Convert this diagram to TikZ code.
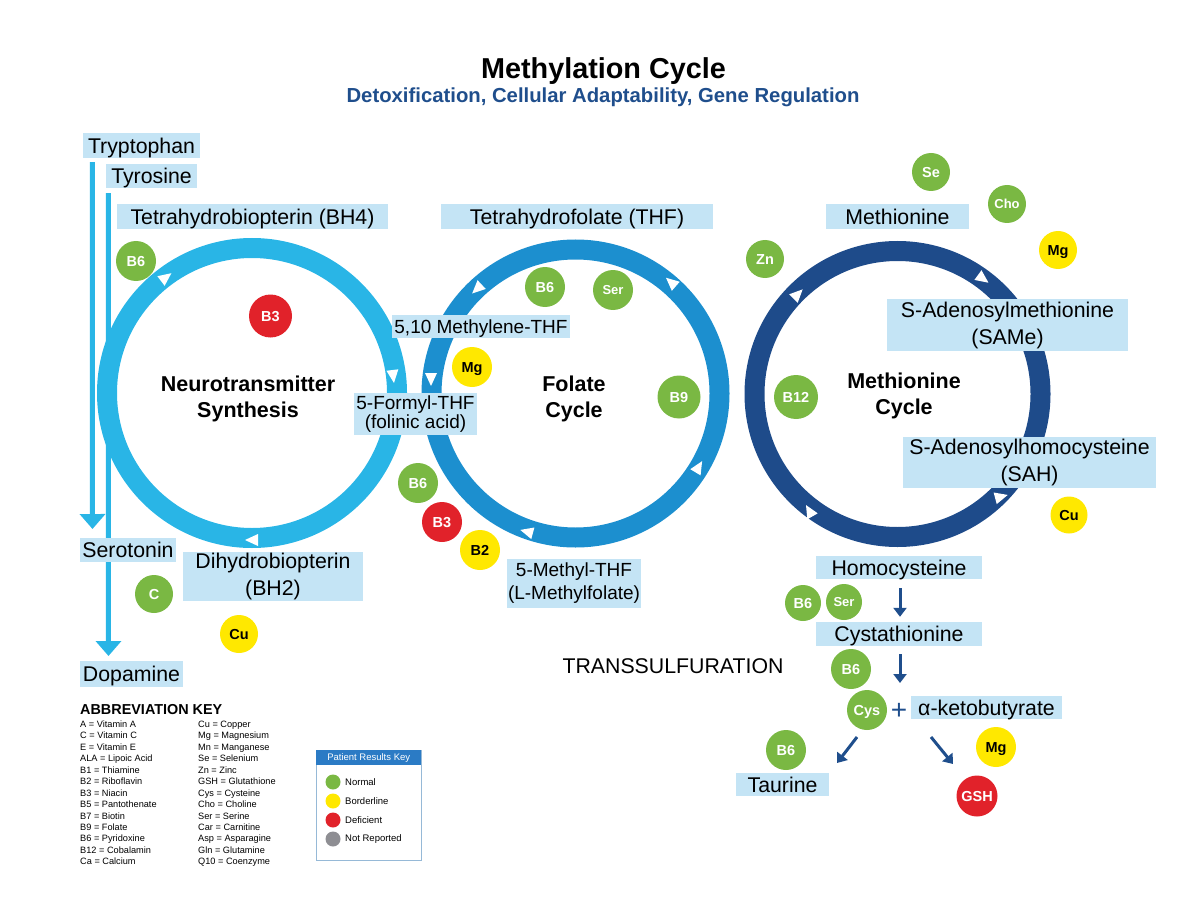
\documentclass[tikz,border=0pt]{standalone}
\usepackage{fontspec}
\setmainfont{Liberation Sans}
\usetikzlibrary{arrows.meta}
\definecolor{lblue}{RGB}{196,228,245}
\definecolor{ringA}{RGB}{41,181,230}
\definecolor{ringB}{RGB}{28,143,207}
\definecolor{ringC}{RGB}{30,75,138}
\definecolor{navy}{RGB}{31,78,140}
\definecolor{bgreen}{RGB}{122,184,67}
\definecolor{byellow}{RGB}{255,232,0}
\definecolor{bred}{RGB}{225,34,42}
\definecolor{bgray}{RGB}{142,142,147}
\definecolor{keyhead}{RGB}{43,123,197}
\definecolor{keyborder}{RGB}{150,185,215}
\newcommand{\wtri}[3]{\fill[white,shift={(#1,#2)},rotate=#3] (8,0)--(-5,6)--(-5,-6)--cycle;}
\begin{document}
\begin{tikzpicture}[x=1pt,y=-1pt,
  lbl/.style={fill=lblue, inner sep=0pt, align=center, font=\fontsize{21.3}{27}\selectfont},
  lbl1/.style={lbl, text height=15.3pt, text depth=0pt},
  lbls/.style={fill=lblue, inner sep=0pt, align=center, font=\fontsize{19}{19.5}\selectfont},
  badge/.style={circle, inner sep=0pt, minimum size=40pt, text height=10.4pt, text depth=0pt, font=\bfseries\fontsize{14.5}{15}\selectfont},
  gb/.style={badge, fill=bgreen, text=white},
  yb/.style={badge, fill=byellow, text=black},
  rb/.style={badge, fill=bred, text=white},
  small/.style={font=\bfseries\fontsize{13}{14}\selectfont, text height=9.3pt},
  ring/.style={line width=20pt},
  vline/.style={ringA, line width=5pt, -{Triangle[width=25pt,length=15pt]}},
  tsarrow/.style={navy, line width=3pt, -{Triangle[width=13pt,length=9pt]}},
  cyclbl/.style={inner sep=0pt, align=center, font=\bfseries\fontsize{21.5}{26}\selectfont},
  keytxt/.style={inner sep=0pt, anchor=base west, font=\fontsize{9.2}{11}\selectfont},
  ktxt/.style={inner sep=0pt, anchor=west, font=\fontsize{9.5}{11}\selectfont},
  kdot/.style={circle, inner sep=0pt, minimum size=15pt}
]
\useasboundingbox (0,0) rectangle (1185,901);

% titles
\node[inner sep=0pt, anchor=base, font=\bfseries\fontsize{28.8}{30}\selectfont] (title) at (603.5,79) {Methylation Cycle};
\node[inner sep=0pt, anchor=base, text=navy, font=\bfseries\fontsize{20.3}{22}\selectfont] (subtitle) at (603,103) {Detoxification, Cellular Adaptability, Gene Regulation};

% top labels used by the vertical arrows
\node[lbl1, minimum width=117pt, minimum height=25pt] (tryp) at (141.5,145.5) {Tryptophan};
\node[lbl1, minimum width=91pt, minimum height=24pt] (tyro) at (151.5,176) {Tyrosine};

% vertical arrows
\draw[vline, shorten <=4pt, shorten >=9pt] ([xshift=9.5pt]tryp.south west) -- (92.5,538) coordinate (seroTop);
\draw[vline, shorten <=5pt, shorten >=5pt] ([xshift=2.5pt]tyro.south west) -- (108.5,661) coordinate (dopaTop);

% rings
\draw[ring, ringA] (252,393) circle[radius=145];
\draw[ring, ringB] (575.5,393.5) circle[radius=144];
\draw[ring, ringC] (897.5,394) circle[radius=143];

% white arrow marks
\wtri{165}{278}{37}
\wtri{393}{375}{-83}
\wtri{253}{540}{180}
\wtri{478}{288}{223}
\wtri{431}{378}{270}
\wtri{672}{283}{139}
\wtri{698}{468}{59}
\wtri{528}{532}{165}
\wtri{797}{295}{45}
\wtri{982}{278}{-36}
\wtri{1000}{497}{15}
\wtri{810}{512}{120}

% label boxes
\node[lbl1, minimum width=96pt, minimum height=24pt] (sero) at (128,550) {Serotonin};
\node[lbl1, minimum width=103pt, minimum height=26pt] (dopa) at (131.5,674) {Dopamine};
\node[lbl1, minimum width=271pt, minimum height=25pt] (bh4) at (252.5,216.5) {Tetrahydrobiopterin (BH4)};
\node[lbl1, minimum width=272pt, minimum height=25pt] (thf) at (577,216.5) {Tetrahydrofolate (THF)};
\node[lbl1, minimum width=143pt, minimum height=25pt] (met) at (897.5,216.5) {Methionine};
\node[lbls, text height=13.6pt, text depth=0pt, minimum width=178pt, minimum height=23pt] (mthf) at (481,326.5) {5,10 Methylene-THF};
\node[lbls, minimum width=123pt, minimum height=42pt] (fthf) at (415.5,414) {5-Formyl-THF\\(folinic acid)};
\node[lbl, minimum width=241pt, minimum height=52pt] (same) at (1007.5,325) {S-Adenosylmethionine\\(SAMe)};
\node[lbl, minimum width=253pt, minimum height=51pt] (sah) at (1029.5,462.5) {S-Adenosylhomocysteine\\(SAH)};
\node[lbl, minimum width=180pt, minimum height=49pt] (bh2) at (273,576.5) {Dihydrobiopterin\\(BH2)};
\node[lbls, font=\fontsize{19}{23}\selectfont, minimum width=134pt, minimum height=49pt] (methf) at (574,583.5) {5-Methyl-THF\\(L-Methylfolate)};
\node[lbl1, minimum width=166pt, minimum height=23pt] (hcy) at (899,567.5) {Homocysteine};
\node[lbl1, minimum width=166pt, minimum height=24pt] (cysta) at (899,634) {Cystathionine};
\node[lbl1, minimum width=151pt, minimum height=23pt] (akb) at (986.5,707.5) {α-ketobutyrate};
\node[lbl1, minimum width=93pt, minimum height=23pt] (taur) at (782.5,784.5) {Taurine};

% cycle titles
\node[cyclbl, anchor=north] (ntcyc) at (248,376) {Neurotransmitter\\Synthesis};
\node[cyclbl, anchor=north] (folcyc) at (574,376) {Folate\\Cycle};
\node[cyclbl, anchor=north] (metcyc) at (904,373) {Methionine\\Cycle};
\node[inner sep=0pt, anchor=base, font=\fontsize{21.3}{24}\selectfont] (transs) at (673,673.6) {TRANSSULFURATION};

% transsulfuration arrows
\node[inner sep=0pt, text=navy, font=\fontsize{28}{28}\selectfont] (plus) at (899,711) {+};
\coordinate (split) at (900,683);
\coordinate (tsL0) at (857,737);
\coordinate (tsL1) at (837,763);
\coordinate (tsR0) at (931,737);
\coordinate (tsR1) at (953,764);
\draw[tsarrow, shorten <=9pt, shorten >=5pt] (hcy.south -| 900,0) -- (cysta.north -| 900,0);
\draw[tsarrow, shorten <=8pt] (cysta.south -| 900,0) -- (split);
\draw[tsarrow] (tsL0) -- (tsL1);
\draw[tsarrow] (tsR0) -- (tsR1);

% badges
\node[gb] (b1) at (136,261) {B6};
\node[rb, minimum size=43pt] (b2) at (270.5,316) {B3};
\node[gb, minimum size=38pt] (b3) at (154,594) {C};
\node[yb, minimum size=38pt] (b4) at (239,634) {Cu};
\node[gb] (b5) at (545,287) {B6};
\node[gb, small] (b6) at (613,290) {Ser};
\node[yb] (b7) at (472,367) {Mg};
\node[gb, minimum size=43pt] (b8) at (679,397) {B9};
\node[gb] (b9) at (418,483) {B6};
\node[rb] (b10) at (442,522) {B3};
\node[yb] (b11) at (480,550) {B2};
\node[gb, minimum size=38pt] (b12) at (931,172) {Se};
\node[gb, small, minimum size=38pt] (b13) at (1007,204) {Cho};
\node[yb, minimum size=38pt] (b14) at (1058,250) {Mg};
\node[gb, minimum size=38pt] (b15) at (765,259) {Zn};
\node[gb, minimum size=44pt] (b16) at (796,397) {B12};
\node[yb, minimum size=37pt] (b17) at (1069,515) {Cu};
\node[gb, minimum size=36pt] (b18) at (803,603) {B6};
\node[gb, small, minimum size=36pt] (b19) at (844,602) {Ser};
\node[gb] (b20) at (851,669) {B6};
\node[gb] (b21) at (867,710) {Cys};
\node[gb] (b22) at (786,750) {B6};
\node[yb] (b23) at (996,747) {Mg};
\node[rb, minimum size=41pt] (b24) at (977,796) {GSH};

% abbreviation key
\node[inner sep=0pt, anchor=base west, font=\bfseries\fontsize{14.4}{15}\selectfont] (abbr) at (80,714.5) {ABBREVIATION KEY};
\foreach \t [count=\i from 0] in {A = Vitamin A, C = Vitamin C, E = Vitamin E, ALA = Lipoic Acid, B1 = Thiamine, B2 = Riboflavin, B3 = Niacin, B5 = Pantothenate, B7 = Biotin, B9 = Folate, B6 = Pyridoxine, B12 = Cobalamin, Ca = Calcium}
  {\node[keytxt] (ka\i) at (80,727.4+11.45*\i) {\t};}
\foreach \t [count=\i from 0] in {Cu = Copper, Mg = Magnesium, Mn = Manganese, Se = Selenium, Zn = Zinc, GSH = Glutathione, Cys = Cysteine, Cho = Choline, Ser = Serine, Car = Carnitine, Asp = Asparagine, Gln = Glutamine, Q10 = Coenzyme}
  {\node[keytxt] (kb\i) at (198,727.4+11.45*\i) {\t};}

% patient results key
\node[draw=keyborder, line width=0.8pt, fill=white, minimum width=105pt, minimum height=110pt, inner sep=0pt, anchor=north west] (kbox) at (316,750) {};
\node[fill=keyhead, text=white, minimum width=105pt, minimum height=15pt, inner sep=0pt, anchor=north west, font=\fontsize{9.5}{10}\selectfont] (khead) at (316,750) {Patient Results Key};
\node[kdot, fill=bgreen] (kd1) at (333,782) {};
\node[kdot, fill=byellow] (kd2) at (333,801) {};
\node[kdot, fill=bred] (kd3) at (333,820) {};
\node[kdot, fill=bgray] (kd4) at (333,839) {};
\node[ktxt] (kl1) at (345,782) {Normal};
\node[ktxt] (kl2) at (345,801) {Borderline};
\node[ktxt] (kl3) at (345,820) {Deficient};
\node[ktxt] (kl4) at (345,839) {Not Reported};
\end{tikzpicture}
\end{document}
